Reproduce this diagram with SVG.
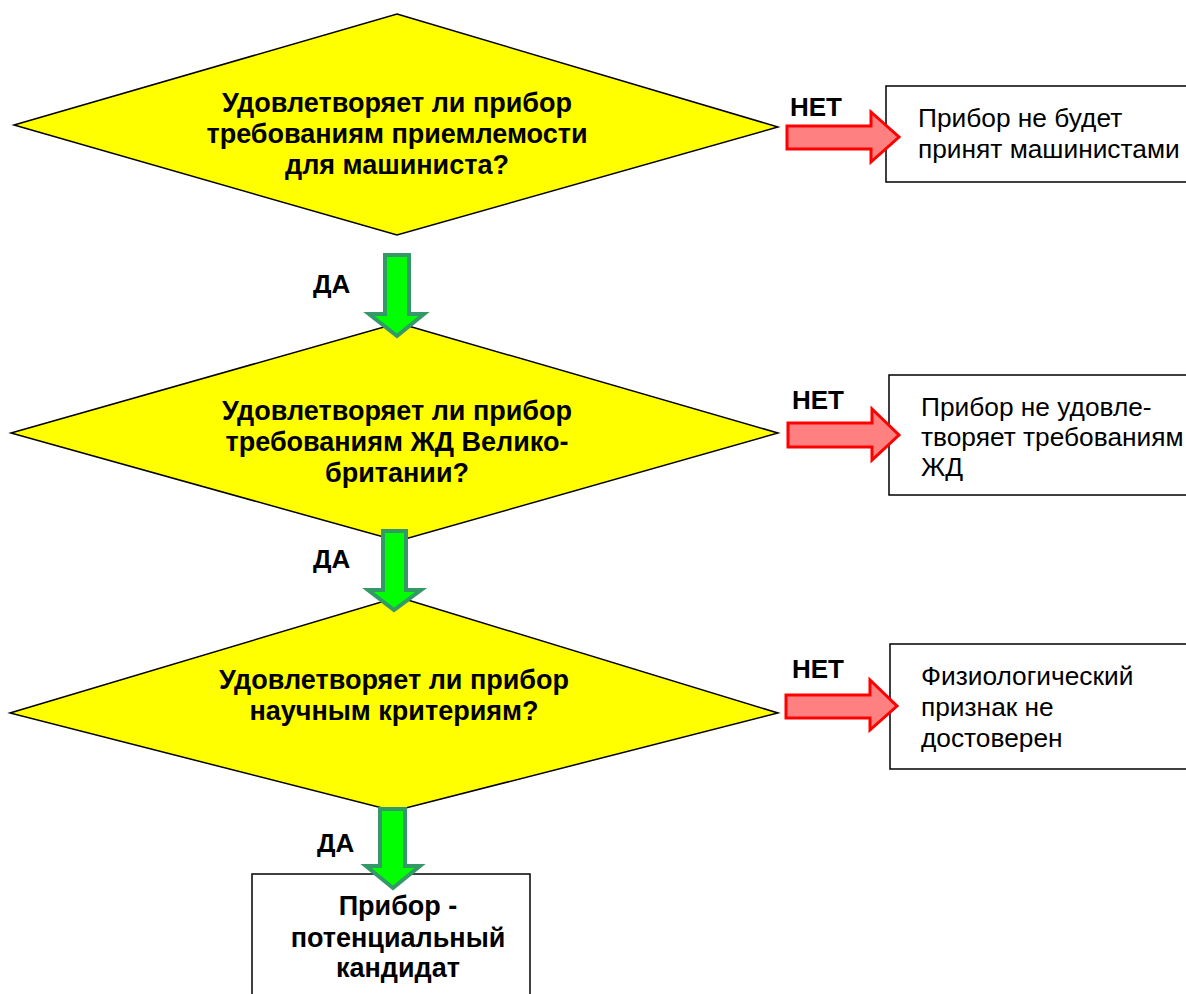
<svg xmlns="http://www.w3.org/2000/svg" width="1186" height="994" viewBox="0 0 1186 994">
<style>
.dia{fill:#FFFF00;stroke:#000;stroke-width:1.5}
.box{fill:#fff;stroke:#000;stroke-width:1.5}
.yes{fill:#00FF00;stroke:#339966;stroke-width:4;stroke-linejoin:miter}
.no{fill:#FF8080;stroke:#FF0000;stroke-width:3;stroke-linejoin:miter}
.b{font-family:"Liberation Sans",Arial,sans-serif;font-weight:bold;font-size:27px;fill:#000}
.l{font-family:"Liberation Sans",Arial,sans-serif;font-weight:bold;font-size:26px;fill:#000}
.n{font-family:"Liberation Sans",Arial,sans-serif;font-size:26.3px;fill:#000}
.c{text-anchor:middle}
</style>
<rect width="1186" height="994" fill="#fff"/>
<g id="q1">
<polygon class="dia" points="397,14 778,127 397,235 14,125"/>
<text class="b c" x="397" y="112">Удовлетворяет ли прибор</text>
<text class="b c" x="397" y="143">требованиям приемлемости</text>
<text class="b c" x="397" y="174">для машиниста?</text>
</g>
<g id="q2">
<polygon class="dia" points="398,323 778,433 398,541 11,433"/>
<text class="b c" x="397" y="420">Удовлетворяет ли прибор</text>
<text class="b c" x="397" y="451">требованиям ЖД Велико-</text>
<text class="b c" x="397" y="482">британии?</text>
</g>
<g id="q3">
<polygon class="dia" points="398,597 778,713 394,811 10,713"/>
<text class="b c" x="394" y="689">Удовлетворяет ли прибор</text>
<text class="b c" x="394" y="720">научным критериям?</text>
</g>
<g id="r1">
<rect class="box" x="886" y="86" width="310" height="96"/>
<text class="n" x="918" y="127">Прибор не будет</text>
<text class="n" x="918" y="158">принят машинистами</text>
</g>
<g id="r2">
<rect class="box" x="889" y="375" width="310" height="120"/>
<text class="n" x="921" y="416">Прибор не удовле-</text>
<text class="n" x="921" y="446">творяет требованиям</text>
<text class="n" x="921" y="476">ЖД</text>
</g>
<g id="r3">
<rect class="box" x="890" y="644" width="310" height="125"/>
<text class="n" x="921" y="685">Физиологический</text>
<text class="n" x="921" y="716">признак не</text>
<text class="n" x="921" y="747">достоверен</text>
</g>
<g id="r4">
<rect class="box" x="252" y="874" width="278" height="140"/>
<text class="b c" x="398" y="915">Прибор -</text>
<text class="b c" x="398" y="947">потенциальный</text>
<text class="b c" x="398" y="977">кандидат</text>
</g>
<g id="connectors">
<polygon class="yes" points="385,255 409,255 409,314 424,314 397,336 369,314 385,314"/>
<polygon class="yes" points="383,531 406,531 406,590 421,590 394,610 368,590 383,590"/>
<polygon class="yes" points="380,809 405,809 405,866 420,866 393,888 366,866 380,866"/>
<polygon class="no" points="787,126 871,126 871,112 899,137 871,162 871,149 787,149"/>
<polygon class="no" points="788,423 872,423 872,409 899,435 872,460 872,447 788,447"/>
<polygon class="no" points="786,695 870,695 870,680 897,706 870,730 870,718 786,718"/>
<text class="l" x="790" y="116">НЕТ</text>
<text class="l" x="792" y="409">НЕТ</text>
<text class="l" x="792" y="678">НЕТ</text>
<text class="l" x="313" y="293">ДА</text>
<text class="l" x="313" y="568">ДА</text>
<text class="l" x="317" y="852">ДА</text>
</g>
</svg>
